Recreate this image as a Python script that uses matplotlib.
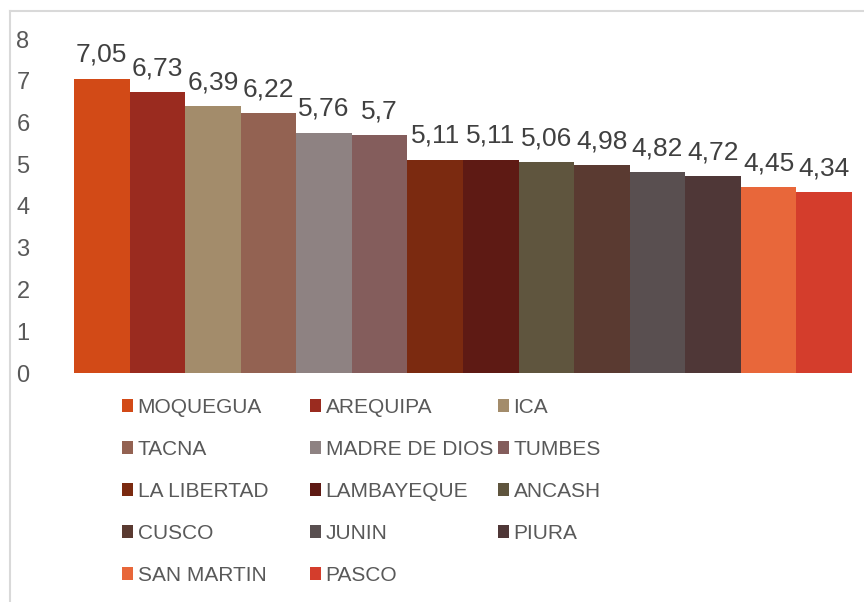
import matplotlib
matplotlib.use("Agg")
import matplotlib.pyplot as plt
from matplotlib.patches import Patch
from matplotlib.lines import Line2D

regions = ["MOQUEGUA", "AREQUIPA", "ICA", "TACNA", "MADRE DE DIOS", "TUMBES",
           "LA LIBERTAD", "LAMBAYEQUE", "ANCASH", "CUSCO", "JUNIN", "PIURA",
           "SAN MARTIN", "PASCO"]
values = [7.05, 6.73, 6.39, 6.22, 5.76, 5.70, 5.11, 5.11, 5.06, 4.98, 4.82,
          4.72, 4.45, 4.34]
value_labels = ["7,05", "6,73", "6,39", "6,22", "5,76", "5,7", "5,11", "5,11",
                "5,06", "4,98", "4,82", "4,72", "4,45", "4,34"]
colors = ["#D24A17", "#9A2B1F", "#A38C6B", "#936252", "#8E8282", "#845D5C",
          "#7B2A10", "#5E1A14", "#5F553E", "#5A3A31", "#594F50", "#4F3737",
          "#E8673A", "#D43D2C"]
y_ticks = [0, 1, 2, 3, 4, 5, 6, 7, 8]

plt.rcParams["font.family"] = ["Liberation Sans", "DejaVu Sans"]

fig = plt.figure(figsize=(8.64, 6.02), dpi=100)
ax = fig.add_axes([74 / 864, 1 - 373 / 602, 778 / 864, (373 - 39) / 602])

x = list(range(len(values)))
bars = ax.bar(x, values, width=1.0, color=colors, linewidth=0)

for xi, v, lab in zip(x, values, value_labels):
    ax.annotate(lab, (xi, v), xytext=(0, 12), textcoords="offset points",
                ha="center", va="baseline", fontsize=19, color="#404040",
                annotation_clip=False)

ax.set_xlim(-0.5, len(values) - 0.5)
ax.set_ylim(0, 8)
ax.set_yticks(y_ticks)
ax.set_yticklabels([str(t) for t in y_ticks])
ax.set_xticks([])
ax.tick_params(axis="y", length=0, pad=32, labelsize=17, labelcolor="#595959")
for s in ax.spines.values():
    s.set_visible(False)

# chart frame (left and top edges)
fig.add_artist(Line2D([10 / 864, 10 / 864], [0, 1 - 11 / 602],
                      transform=fig.transFigure, color="#D9D9D9", lw=1.5))
fig.add_artist(Line2D([10 / 864, 1], [1 - 11 / 602, 1 - 11 / 602],
                      transform=fig.transFigure, color="#D9D9D9", lw=1.5))

# legend laid out row by row in three columns
col_x = [122, 310, 498]
for c in range(3):
    idx = list(range(c, len(regions), 3))
    handles = [Patch(facecolor=colors[i], edgecolor="none") for i in idx]
    labels = [regions[i] for i in idx]
    fig.legend(handles, labels, loc="upper left",
               bbox_to_anchor=(col_x[c] / 864, 1 - 398 / 602),
               bbox_transform=fig.transFigure, frameon=False, fontsize=15,
               borderpad=0, borderaxespad=0, handlelength=0.55,
               handleheight=0.55, handletextpad=0.2, labelspacing=1.1,
               labelcolor="#595959")

fig.savefig("out.png", dpi=100)
